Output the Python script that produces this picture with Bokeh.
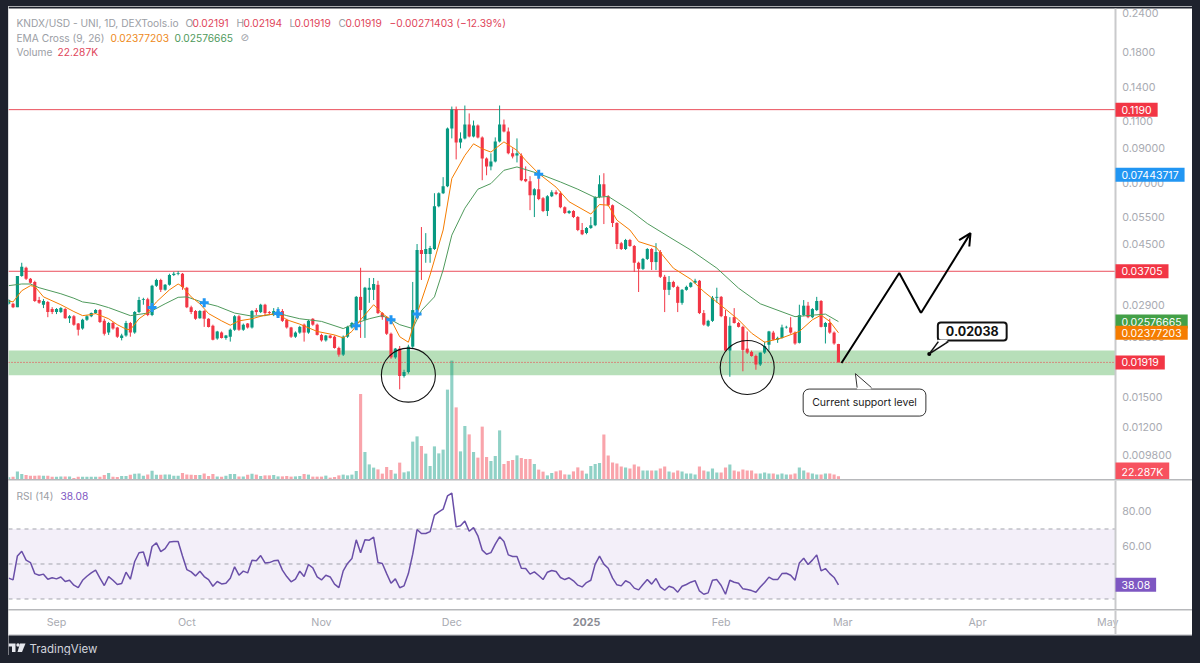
import pandas as pd
from bokeh.embed import file_html
from bokeh.resources import INLINE
from bokeh.layouts import column
from bokeh.models import (Range1d, LinearScale, FixedTicker, BoxAnnotation, Label, Arrow, OpenHead)
from bokeh.plotting import figure

# ---------- data ----------
first_day = pd.Timestamp("2024-09-01")
candle_days = list(range(-11, 181))

opens = [.0293,.0293,.0286,.0358,.0380,.0351,.0343,.0301,.0291,.0297,
 .0282,.0276,.0276,.0282,.0264,.0268,.0254,.0245,.0261,.0268,
 .0274,.0280,.0259,.0238,.0255,.0247,.0229,.0233,.0255,.0238,
 .0276,.0301,.0303,.0270,.0334,.0348,.0324,.0336,.0361,.0363,
 .0364,.0329,.0286,.0278,.0264,.0278,.0263,.0250,.0228,.0238,
 .0229,.0231,.0243,.0268,.0243,.0254,.0247,.0280,.0276,.0291,
 .0276,.0270,.0268,.0278,.0261,.0247,.0231,.0238,.0252,.0238,
 .0263,.0252,.0234,.0225,.0233,.0231,.0213,.0203,.0231,.0247,
 .0248,.0308,.0261,.0324,.0324,.0336,.0274,.0266,.0236,.0199,
 .0212,.0174,.0179,.0215,.0280,.0432,.0420,.0420,.0435,.0592,
 .0651,.0685,.1039,.1191,.0939,.0967,.1069,.0981,.1061,.0974,
 .0837,.0790,.0819,.0946,.1069,.1017,.0868,.0855,.0855,.0721,
 .0710,.0642,.0670,.0628,.0572,.0637,.0656,.0651,.0588,.0564,
 .0572,.0548,.0499,.0488,.0506,.0517,.0633,.0695,.0637,.0597,
 .0525,.0454,.0435,.0464,.0445,.0394,.0377,.0405,.0435,.0396,
 .0426,.0356,.0324,.0343,.0331,.0295,.0324,.0331,.0341,.0346,
 .0274,.0250,.0259,.0306,.0308,.0268,.0209,.0266,.0255,.0248,
 .0212,.0207,.0201,.0189,.0206,.0218,.0238,.0226,.0229,.0247,
 .0247,.0238,.0221,.0270,.0289,.0266,.0280,.0299,.0248,.0255,
 .0238,.02191]
highs = [.0303,.0295,.0358,.0394,.0383,.0353,.0346,.0308,.0303,.0299,
 .0286,.0284,.0286,.0284,.0270,.0270,.0255,.0263,.0270,.0275,
 .0282,.0282,.0263,.0257,.0257,.0248,.0236,.0259,.0257,.0278,
 .0308,.0306,.0306,.0336,.0351,.0351,.0338,.0364,.0369,.0371,
 .0366,.0331,.0289,.0280,.0280,.0280,.0264,.0252,.0241,.0240,
 .0234,.0245,.0270,.0270,.0254,.0255,.0280,.0284,.0293,.0293,
 .0278,.0284,.0286,.0282,.0263,.0248,.0240,.0250,.0254,.0261,
 .0264,.0254,.0236,.0234,.0234,.0233,.0215,.0233,.0250,.0257,
 .0310,.0380,.0331,.0353,.0353,.0346,.0276,.0268,.0238,.0213,
 .0216,.0182,.0218,.0343,.0451,.0510,.0488,.0445,.0651,.0655,
 .0731,.1046,.1217,.1217,.1010,.1226,.1158,.1100,.1069,.0981,
 .0843,.0868,.0974,.1226,.1108,.1046,.0900,.0967,.0868,.0790,
 .0736,.0675,.0726,.0633,.0642,.0665,.0665,.0660,.0592,.0576,
 .0576,.0552,.0525,.0510,.0548,.0637,.0741,.0752,.0642,.0600,
 .0528,.0458,.0468,.0468,.0448,.0397,.0408,.0438,.0438,.0454,
 .0432,.0361,.0358,.0346,.0334,.0326,.0334,.0343,.0351,.0348,
 .0280,.0261,.0310,.0329,.0310,.0280,.0266,.0284,.0257,.0250,
 .0240,.0209,.0203,.0206,.0223,.0241,.0241,.0231,.0252,.0250,
 .0266,.0240,.0291,.0301,.0297,.0284,.0308,.0301,.0257,.0263,
 .0240,.02194]
lows = [.0291,.0284,.0286,.0356,.0348,.0339,.0297,.0293,.0284,.0266,
 .0272,.0272,.0274,.0263,.0255,.0250,.0233,.0243,.0259,.0266,
 .0272,.0255,.0233,.0234,.0243,.0229,.0225,.0231,.0231,.0236,
 .0274,.0291,.0268,.0268,.0331,.0319,.0322,.0334,.0358,.0360,
 .0324,.0284,.0272,.0261,.0263,.0248,.0247,.0225,.0226,.0228,
 .0226,.0223,.0241,.0241,.0241,.0245,.0245,.0270,.0274,.0268,
 .0270,.0268,.0266,.0257,.0245,.0229,.0229,.0236,.0223,.0236,
 .0250,.0233,.0223,.0223,.0228,.0212,.0200,.0201,.0229,.0245,
 .0243,.0229,.0229,.0295,.0301,.0272,.0261,.0234,.0197,.0197,
 .0158,.0172,.0177,.0212,.0278,.0348,.0394,.0394,.0432,.0588,
 .0647,.0680,.0967,.0831,.0900,.0960,.0974,.0974,.0967,.0715,
 .0741,.0768,.0813,.0939,.1010,.0862,.0837,.0813,.0710,.0705,
 .0576,.0548,.0619,.0568,.0552,.0633,.0642,.0584,.0560,.0560,
 .0544,.0495,.0481,.0484,.0503,.0513,.0628,.0521,.0592,.0510,
 .0435,.0432,.0432,.0442,.0369,.0319,.0374,.0402,.0374,.0374,
 .0353,.0276,.0312,.0329,.0276,.0291,.0322,.0329,.0338,.0272,
 .0250,.0248,.0257,.0295,.0266,.0207,.0173,.0254,.0247,.0180,
 .0204,.0200,.0182,.0187,.0204,.0209,.0225,.0221,.0228,.0245,
 .0236,.0218,.0220,.0268,.0264,.0264,.0278,.0247,.0220,.0236,
 .0218,.01919]
closes = [.0301,.0286,.0358,.0383,.0351,.0341,.0299,.0295,.0299,.0276,
 .0276,.0282,.0284,.0264,.0268,.0252,.0243,.0261,.0268,.0274,
 .0280,.0257,.0236,.0255,.0245,.0231,.0233,.0255,.0238,.0276,
 .0301,.0303,.0270,.0334,.0348,.0324,.0336,.0361,.0364,.0365,
 .0331,.0286,.0276,.0263,.0278,.0263,.0248,.0226,.0240,.0229,
 .0233,.0243,.0268,.0243,.0252,.0247,.0278,.0276,.0291,.0274,
 .0274,.0278,.0278,.0259,.0247,.0231,.0238,.0248,.0238,.0259,
 .0252,.0234,.0225,.0233,.0229,.0213,.0203,.0231,.0248,.0255,
 .0308,.0280,.0329,.0329,.0338,.0274,.0266,.0236,.0199,.0212,
 .0174,.0179,.0215,.0280,.0432,.0420,.0435,.0438,.0592,.0651,
 .0685,.1039,.1191,.0939,.0967,.1069,.0981,.1061,.0974,.0837,
 .0790,.0819,.0946,.1069,.1017,.0868,.0849,.0868,.0715,.0710,
 .0642,.0670,.0624,.0572,.0637,.0656,.0647,.0588,.0564,.0572,
 .0548,.0499,.0484,.0506,.0517,.0633,.0695,.0637,.0597,.0525,
 .0451,.0435,.0464,.0445,.0394,.0377,.0405,.0435,.0396,.0426,
 .0356,.0324,.0343,.0331,.0295,.0324,.0331,.0341,.0346,.0274,
 .0252,.0259,.0306,.0308,.0268,.0209,.0250,.0255,.0248,.0210,
 .0206,.0201,.0189,.0206,.0216,.0240,.0226,.0229,.0247,.0248,
 .0238,.0220,.0270,.0289,.0266,.0282,.0299,.0248,.0255,.0238,
 .0220,.01919]

volume_k = [15,19,61,40,32,27,27,29,27,27,
 19,19,21,21,21,8,19,19,19,19,
 19,19,32,48,19,16,24,24,35,43,
 45,27,37,67,35,35,37,37,27,27,
 48,37,35,32,32,45,24,40,21,19,
 27,40,40,21,21,35,43,35,24,29,
 29,32,21,21,24,19,21,24,40,35,
 19,19,19,27,11,16,29,35,29,35,
 64,680,216,117,91,77,43,96,72,43,
 131,53,61,299,341,264,203,104,261,205,
 235,715,947,573,221,424,357,216,171,419,
 176,144,184,389,120,144,152,189,168,160,
 160,120,75,59,29,48,61,69,37,35,
 61,93,67,43,104,120,128,356,188,132,
 124,100,92,84,116,100,68,68,68,68,
 84,100,60,52,68,60,44,44,36,100,
 68,60,84,52,52,92,116,68,60,76,
 68,68,44,44,52,44,44,36,44,36,
 36,44,92,68,52,44,36,36,44,44,
 36,22.287]

rsi_values = [41.9,40.9,54.6,57.3,52.2,50.8,44.5,43.6,44.2,41.3,
 42.1,41.5,42.6,40.0,40.7,37.9,36.5,40.7,43.0,44.9,
 46.5,41.9,37.7,42.8,40.7,38.3,38.8,45.3,41.3,51.4,
 56.4,56.9,48.7,60.0,62.1,57.1,58.8,62.5,62.8,62.8,
 54.6,46.8,45.5,43.2,45.9,42.8,41.1,37.3,40.0,38.6,
 39.0,41.9,48.4,43.6,45.9,44.9,52.2,51.8,54.8,50.6,
 50.8,51.8,52.2,46.5,42.8,39.8,41.3,45.9,42.8,49.7,
 47.8,42.6,40.9,43.6,42.6,38.5,36.5,46.1,50.3,53.1,
 63.8,56.4,63.8,63.6,65.3,50.8,50.3,44.5,39.0,41.5,
 36.4,37.5,44.5,55.6,69.7,67.4,67.4,68.5,77.9,79.8,
 81.3,88.9,90.5,71.2,71.8,74.5,68.7,70.8,66.1,57.9,
 55.6,56.5,61.3,65.5,62.8,55.2,54.3,54.3,47.6,47.4,
 44.2,45.5,43.4,41.1,45.3,46.3,45.7,42.3,41.1,42.1,
 40.4,37.9,36.9,39.4,40.7,49.9,54.5,49.9,47.6,41.9,
 38.1,37.5,40.4,39.2,36.2,35.2,38.3,41.1,38.5,41.7,
 36.9,35.0,37.3,36.4,33.9,37.3,38.3,39.6,40.5,34.6,
 32.7,33.5,40.7,41.1,37.7,32.7,40.7,39.6,39.0,35.8,
 35.4,34.8,33.9,36.9,39.4,42.5,41.1,41.1,44.5,44.7,
 43.6,40.7,50.6,53.3,49.7,52.2,55.2,46.1,47.4,44.5,
 42.3,38.08]

ema9_days = [-11,-10,-8,-6,-5,-3,1,4,6,8,9,12,14,16,17,19,21,23,26,28,29,31,33,35,38,40,42,45,48,51,53,56,60,64,66,68,70,73,75,77,79,81,83,86,89,91,94,96,98,100,103,106,108,111,115,118,123,125,127,129,132,134,138,142,146,149,154,157,160,163,167,171,174,176,178,180]
ema9_vals = [.0299,.0297,.0322,.0334,.0332,.0308,.0291,.0277,.0269,.0271,.0273,.0263,.0252,.0244,.0243,.0263,.0275,.0297,.0324,.0338,.0332,.0308,.0293,.0273,.0259,.0251,.0259,.0263,.0270,.0273,.0261,.0253,.0240,.0234,.0229,.0240,.0261,.0291,.0273,.0261,.0231,.0222,.0273,.0361,.0499,.0724,.0855,.0930,.0897,.0876,.0943,.0887,.0825,.0750,.0680,.0612,.0560,.0600,.0597,.0536,.0499,.0459,.0441,.0379,.0350,.0320,.0282,.0261,.0237,.0222,.0229,.0240,.0261,.0270,.0258,.02377203]
ema26_days = [-11,-8,-6,-4,1,4,6,9,12,17,21,25,28,30,34,37,41,45,48,51,53,56,61,66,69,72,75,77,79,82,84,87,89,91,94,97,100,103,106,111,116,120,124,127,132,136,141,146,152,157,162,170,177,180]
ema26_vals = [.0334,.0338,.0338,.0329,.0315,.0305,.0297,.0293,.0285,.0269,.0274,.0293,.0307,.0308,.0295,.0288,.0274,.0268,.0269,.0274,.0269,.0263,.0258,.0245,.0255,.0263,.0269,.0261,.0252,.0245,.0279,.0308,.0374,.0481,.0584,.0670,.0698,.0768,.0787,.0750,.0706,.0670,.0631,.0636,.0576,.0523,.0475,.0432,.0379,.0328,.0293,.0267,.0272,.02576665]
cross_days = [22,34,51,69,77,83,111]
cross_vals = [.0285,.0295,.0273,.0250,.0261,.0272,.0746]

price_ticks = [.24,.18,.14,.11,.09,.07,.055,.045,.029,.023,.015,.012,.0098]
price_tick_labels = ["0.2400","0.1800","0.1400","0.1100","0.09000","0.07000","0.05500","0.04500","0.02900","0.02300","0.01500","0.01200","0.009800"]
rsi_ticks = [60,80]
rsi_tick_labels = ["60.00","80.00"]
month_days = [0,30,61,91,122,153,181,212,242]
month_labels = ["Sep","Oct","Nov","Dec","","Feb","Mar","Apr","May"]

resistance_levels = [.1190,.03705]
last_price = .01919
support_low, support_high = .0175,.0209
path_days = [180.7,194,199]
path_vals = [.0191,.0366,.0274]
arrow_end = (210.4,.0488)
circle_days = [81,159]
circle_vals = [.0175,.0185]

# ---------- colours ----------
DARK = "#1e222d"; UP = "#089981"; DOWN = "#f23645"; GRAY = "#a9abb2"
ORANGE = "#f57c00"; EMAG = "#4f9a5c"; PURPLE = "#7e57c2"; BLUE = "#2196f3"; AX = "#c9cacc"
SANS = "Inter"

def t(d):
    return (first_day + pd.Timedelta(days=float(d))).timestamp() * 1000.0

WIDTH = 1184
X0 = t(-11.05); XAX = t(243.7)
x_range = Range1d(X0, t(261.5))
x = [t(d) for d in candle_days]
up = [c >= o for o, c in zip(opens, closes)]
DAY = 86400000.0

def base(height, **kw):
    f = figure(width=WIDTH, height=height, output_backend="svg", toolbar_location=None,
               x_range=x_range, x_axis_location=None, y_axis_location="right", min_border=0,
               background_fill_color="white", border_fill_color="white", outline_line_color=None, **kw)
    f.grid.visible = False
    return f

def style_y(f):
    ax = f.yaxis[0]
    ax.fixed_location = XAX
    ax.axis_line_color = AX; ax.axis_line_width = 2
    ax.major_tick_line_color = None; ax.minor_tick_line_color = None
    ax.major_tick_out = 0; ax.major_tick_in = 0; ax.minor_tick_out = 0
    ax.major_label_standoff = 7
    ax.major_label_text_color = GRAY; ax.major_label_text_font_size = "10.7px"
    ax.major_label_text_font = SANS
    return ax

def hline(fig, level, **kw):
    fig.line([X0, XAX], [level, level], **kw)

# ---------- price pane ----------
PANEL_TOP = .2470
p = base(473, y_axis_type="log", y_range=Range1d(.00824, .2506),
         extra_y_ranges={"vol": Range1d(-4, 3780)}, extra_y_scales={"vol": LinearScale()})
ax = style_y(p)
ax.bounds = (.00824, PANEL_TOP)
ax.ticker = FixedTicker(ticks=price_ticks)
ax.major_label_overrides = dict(zip(price_ticks, price_tick_labels))
p.add_layout(BoxAnnotation(bottom=PANEL_TOP, fill_color=DARK, fill_alpha=1, line_color=None, level="underlay"))

p.add_layout(BoxAnnotation(bottom=support_low, top=support_high, right=XAX, fill_color="#4caf50", fill_alpha=0.4,
                           line_color=None, level="underlay"))
xu = [a for a, u in zip(x, up) if u]; xd = [a for a, u in zip(x, up) if not u]
vu = [a for a, u in zip(volume_k, up) if u]; vd = [a for a, u in zip(volume_k, up) if not u]
W = 0.72 * DAY
p.vbar(xu, width=W, top=vu, bottom=0, y_range_name="vol", fill_color=UP, fill_alpha=0.45, line_color=None)
p.vbar(xd, width=W, top=vd, bottom=0, y_range_name="vol", fill_color=DOWN, fill_alpha=0.45, line_color=None)

for lv in resistance_levels:
    hline(p, lv, line_color="#ea4f5b", line_width=1)
hline(p, last_price, line_color=DOWN, line_width=1, line_dash=[1, 2])

wick_c = [UP if u else DOWN for u in up]
p.segment(x, lows, x, highs, line_color=wick_c, line_width=1)
p.vbar(x, width=W, top=[max(o, c) for o, c in zip(opens, closes)], bottom=[min(o, c) for o, c in zip(opens, closes)],
       fill_color=wick_c, line_color=None)
p.line([t(d) for d in ema26_days], ema26_vals, line_color=EMAG, line_width=1)
p.line([t(d) for d in ema9_days], ema9_vals, line_color=ORANGE, line_width=1)
p.scatter([t(d) for d in cross_days], cross_vals, marker="cross", size=9, line_color=BLUE, line_width=3)

p.scatter([t(d) for d in circle_days], circle_vals, marker="circle", size=54, fill_color=None,
          line_color="#111111", line_width=1.1)
p.line([t(d) for d in path_days], path_vals, line_color="black", line_width=2)
p.add_layout(Arrow(end=OpenHead(size=12, line_color="black", line_width=2), x_start=t(path_days[-1]), y_start=path_vals[-1],
                   x_end=t(arrow_end[0]), y_end=arrow_end[1], line_color="black", line_width=2))

# callouts
p.add_layout(Label(x=t(210.8), y=.0240, text="0.02038", text_align="center", text_baseline="middle",
                   text_font=SANS, text_font_style="bold", text_font_size="12.5px", text_color="#111111",
                   background_fill_color="white", border_line_color="#111111", border_line_width=2,
                   padding=(8, 4), border_radius=3))
p.patch([t(200.9), t(203), t(205.3)], [.0204, .0226, .0226], fill_color="white", line_color=None, level="overlay")
p.multi_line([[t(200.9), t(203)], [t(200.9), t(205.3)]], [[.0204, .0223], [.0204, .0223]], line_color="#111111",
             line_width=1.5, level="overlay")
p.scatter([t(200.9)], [.0204], marker="circle", size=4, fill_color="black", line_color=None)

p.add_layout(Label(x=t(186), y=.01436, text="Current support level", text_align="center", text_baseline="middle",
                   text_font=SANS, text_font_size="10.5px", text_color="#222222",
                   background_fill_color="white", border_line_color="#333333", border_line_width=1,
                   padding=(9, 7), border_radius=6))
p.patch([t(183.9), t(184.3), t(187.6)], [.0177, .0158, .0158], fill_color="white", line_color=None, level="overlay")
p.multi_line([[t(183.9), t(184.3)], [t(183.9), t(187.6)]], [[.0177, .0160], [.0177, .0160]], line_color="#333333",
             line_width=1, level="overlay")

# price tags on the axis
FR = WIDTH - 77
def tag(fig, y, text, color):
    fig.add_layout(Label(x=FR, x_units="screen", y=y, text=text, text_align="left", text_baseline="middle",
                         text_font=SANS, text_font_size="10.5px", text_color="white",
                         background_fill_color=color, padding=(6, 3)))
tag(p, .1190, "0.1190", DOWN)
tag(p, .07443717, "0.07443717", BLUE)
tag(p, .03705, "0.03705", DOWN)
tag(p, .02576665, "0.02576665", "#43a047")
tag(p, .02377203, "0.02377203", ORANGE)
tag(p, .01919, "0.01919", DOWN)
p.add_layout(Label(x=FR, x_units="screen", y=7.5, y_units="screen", text="22.287K", text_align="left", text_baseline="middle",
                   text_font=SANS, text_font_size="10.5px", text_color="white", background_fill_color="#f7525f",
                   padding=(6, 3)))

# legend text
def txt(fig, px, py, text, color, size="10.2px", font=SANS, H=471, top=8):
    fig.add_layout(Label(x=px - 8, x_units="screen", y=H - (py - top), y_units="screen", text=text, text_color=color,
                         text_font=font, text_font_size=size, text_baseline="middle", text_align="left"))
LG = "#9b9ea5"; RD = "#e0455a"
for px, s, c in [(16, "KNDX/USD - UNI, 1D, DEXTools.io", LG), (185, "O", LG), (192, "0.02191", RD), (236, "H", LG),
                 (243, "0.02194", RD), (289, "L", LG), (294, "0.01919", RD), (338, "C", LG), (345, "0.01919", RD),
                 (389, "−0.00271403 (−12.39%)", RD)]:
    txt(p, px, 22, s, c)
for px, s, c, f in [(16, "EMA Cross (9, 26)", LG, SANS), (110, "0.02377203", "#ee8a22", SANS), (174, "0.02576665", "#4f9a5c", SANS),
                    (240, "⊘", LG, "DejaVu Sans")]:
    txt(p, px, 37, s, c, font=f)
txt(p, 16, 51, "Volume", LG)
txt(p, 57, 51, "22.287K", RD)

# ---------- RSI pane ----------
r = base(129, y_range=Range1d(24.0, 97.7))
rx = style_y(r)
rx.ticker = FixedTicker(ticks=rsi_ticks)
rx.major_label_overrides = dict(zip(rsi_ticks, rsi_tick_labels))
r.add_layout(BoxAnnotation(bottom=30, top=70, right=XAX, fill_color=PURPLE, fill_alpha=0.095, line_color=None, level="underlay"))
for lv in [70, 50, 30]:
    hline(r, lv, line_color="#a3a5ad", line_width=1, line_dash=[4, 4])
r.line(x, rsi_values, line_color="#6a4fa8", line_width=1.5)
tag(r, 38.08, "38.08", PURPLE)
txt(r, 16, 495, "RSI (14)", LG, H=129, top=480)
txt(r, 60, 495, "38.08", "#7e57c2", H=129, top=480)

# ---------- time axis ----------
a = figure(width=WIDTH, height=24, output_backend="svg", toolbar_location=None, x_axis_type="datetime",
           x_range=x_range, y_range=Range1d(0, 1), y_axis_location="right", min_border=0,
           background_fill_color="white", border_fill_color="white", outline_line_color=None)
a.grid.visible = False
ay = style_y(a)
ay.ticker = FixedTicker(ticks=[]); ay.major_label_text_color = None
xa = a.xaxis[0]
xa.fixed_location = 1
tick_ms = [int(t(d)) for d in month_days]
xa.ticker = FixedTicker(ticks=tick_ms)
xa.major_label_overrides = dict(zip(tick_ms, month_labels))
xa.axis_line_color = None; xa.major_tick_line_color = None; xa.minor_tick_line_color = None
xa.major_tick_out = 0; xa.major_tick_in = 0; xa.major_label_standoff = 5
xa.major_label_text_color = GRAY; xa.major_label_text_font_size = "10.7px"; xa.major_label_text_font = SANS
a.add_layout(Label(x=t(122), y=13, y_units="screen", text="2025", text_align="center", text_baseline="middle",
                   text_font=SANS, text_font_style="bold", text_font_size="10.7px", text_color="#8a8c94"))

# ---------- footer ----------
f = figure(width=WIDTH, height=20, output_backend="svg", toolbar_location=None, x_axis_location=None, y_axis_location=None,
           x_range=Range1d(0, WIDTH), y_range=Range1d(20, 0), min_border=0,
           background_fill_color=DARK, border_fill_color=DARK, outline_line_color=None)
f.grid.visible = False
f.patch([0, 7, 7, 3.5, 3.5, 0], [8, 8, 16.5, 16.5, 11, 11], fill_color="#e6e8ee", line_color=None)
f.circle([9.5], [9.5], radius=1.7, fill_color="#e6e8ee", line_color=None)
f.patch([11.5, 17, 13.5, 9], [8, 8, 16.5, 16.5], fill_color="#e6e8ee", line_color=None)
f.add_layout(Label(x=21, y=13, text="TradingView", text_font=SANS, text_font_size="11.5px", text_color="#d1d4dc",
                   text_baseline="middle", text_align="left"))

inner = column(p, r, a, spacing=1, styles={"background-color": "#b7b8bb"})
page = column(inner, f, spacing=1, margin=(6, 0, 0, 8), styles={"background-color": "#d8d9dc"})

html = file_html(page, INLINE)
html = html.replace("<head>", "<head><style>html,body{background:%s}</style>" % DARK, 1)
open("out.html", "w").write(html)
